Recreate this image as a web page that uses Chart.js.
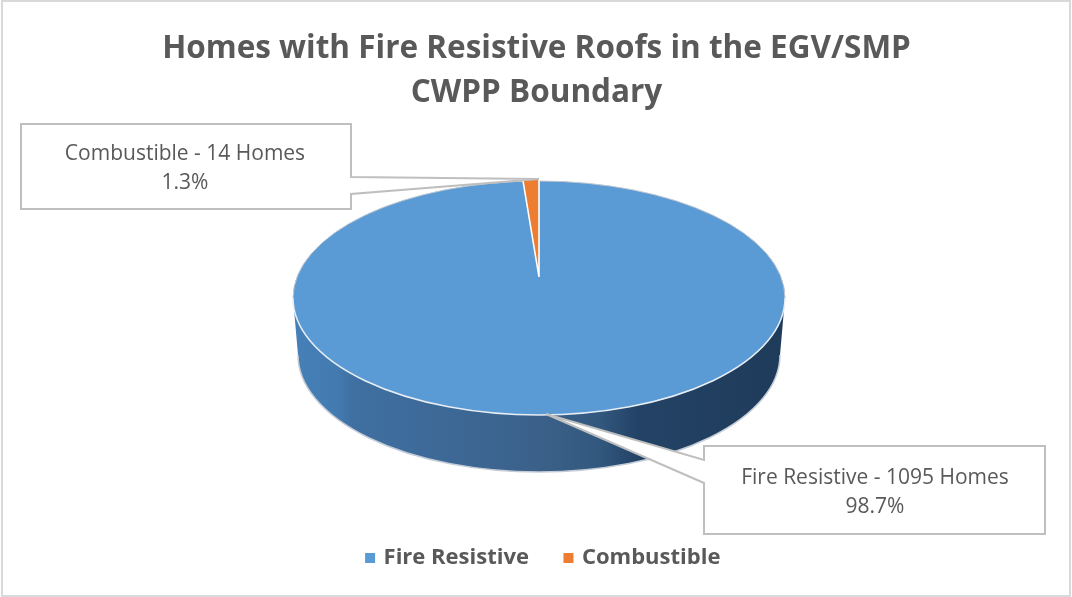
<!DOCTYPE html>
<html>
<head>
<meta charset="utf-8">
<title>Homes with Fire Resistive Roofs</title>
<script src="https://cdn.jsdelivr.net/npm/chart.js@4"></script>
<style>
  body { margin: 0; background: #fff; }
  canvas { display: block; }
</style>
</head>
<body>
<canvas id="roofChart" width="1072" height="597"></canvas>
<script>
const categories = ['Fire Resistive', 'Combustible'];
const homes = [1095, 14];
const percents = ['98.7%', '1.3%'];
const sliceColors = ['#5b9bd5', '#ed7d31'];
const titleLines = ['Homes with Fire Resistive Roofs in the EGV/SMP', 'CWPP Boundary'];

const FONT = '"Open Sans", sans-serif';
const GREY = '#595959';

// where the tilted pie sits on the page
const top3d = { cx: 539, cy: 298, rx: 246, ry: 117, depth: 57, wallRx: 241 };
// the small slice is nearer the back of the tilted disc, so its apex is higher up
const smallSlice = { cy: 277, rx: 205, ry: 98 };

const tilt = (ctx, arc, cx, cy, rx, ry) => {
  const r = arc.outerRadius;
  ctx.translate(cx, cy);
  ctx.scale(rx / r, ry / r);
  ctx.translate(-arc.x, -arc.y);
};

const drawWall = (ctx) => {
  const { cx, cy, rx, ry, depth, wallRx } = top3d;
  const grad = ctx.createLinearGradient(cx - rx, 0, cx + rx, 0);
  grad.addColorStop(0, '#4680b8');
  grad.addColorStop(0.09, '#437bb0');
  grad.addColorStop(0.12, '#3f70a2');
  grad.addColorStop(0.5, '#3b618a');
  grad.addColorStop(0.62, '#33587f');
  grad.addColorStop(0.7, '#234366');
  grad.addColorStop(1, '#1f3b5a');
  ctx.beginPath();
  ctx.moveTo(cx - rx, cy);
  ctx.lineTo(cx - wallRx, cy + depth);
  ctx.ellipse(cx, cy + depth, wallRx, ry, 0, Math.PI, 0, true);
  ctx.lineTo(cx + rx, cy);
  ctx.closePath();
  ctx.fillStyle = grad;
  ctx.fill();

  ctx.beginPath();
  ctx.ellipse(cx, cy + depth, wallRx, ry, 0, Math.PI, 0, true);
  ctx.strokeStyle = '#c3ccd6';
  ctx.lineWidth = 1.5;
  ctx.stroke();
};

const pie3d = {
  id: 'pie3d',
  beforeDatasetDraw(chart, args) {
    const ctx = chart.ctx;
    const [large, small] = chart.getDatasetMeta(args.index).data;
    const { cx, cy, rx, ry } = top3d;

    drawWall(ctx);

    ctx.save();
    tilt(ctx, large, cx, cy, rx, ry);
    large.draw(ctx);
    // second pass turned half way round to fill the notch below the small slice
    ctx.translate(large.x, large.y);
    ctx.rotate(Math.PI);
    ctx.translate(-large.x, -large.y);
    large.draw(ctx);
    ctx.restore();

    // rim of the disc
    ctx.beginPath();
    ctx.ellipse(cx, cy, rx, ry, 0, Math.PI, 0);
    ctx.strokeStyle = '#c3c9d0';
    ctx.lineWidth = 1;
    ctx.stroke();
    ctx.beginPath();
    ctx.ellipse(cx, cy, rx, ry, 0, 0, Math.PI);
    ctx.strokeStyle = '#e8eef4';
    ctx.lineWidth = 1.5;
    ctx.stroke();

    ctx.save();
    tilt(ctx, small, cx, smallSlice.cy, smallSlice.rx, smallSlice.ry);
    small.draw(ctx);
    ctx.restore();
    return false;
  }
};

const callout = (ctx, box, pointer, lines) => {
  ctx.beginPath();
  pointer.forEach(([x, y], i) => (i ? ctx.lineTo(x, y) : ctx.moveTo(x, y)));
  ctx.closePath();
  ctx.fillStyle = '#fff';
  ctx.strokeStyle = '#bfbfbf';
  ctx.lineWidth = 2;
  ctx.fill();
  ctx.stroke();

  ctx.fillStyle = GREY;
  ctx.font = `21px ${FONT}`;
  ctx.textAlign = 'center';
  ctx.textBaseline = 'middle';
  lines.forEach((line, i) => ctx.fillText(line, box.x, box.y + i * 29.5));
};

const callouts = {
  id: 'callouts',
  afterDatasetsDraw(chart) {
    const ctx = chart.ctx;
    callout(ctx, { x: 185, y: 154 },
      [[21, 124], [351, 124], [351, 177], [539, 179], [351, 194], [351, 209], [21, 209]],
      [`${categories[1]} - ${homes[1]} Homes`, percents[1]]);
    callout(ctx, { x: 875, y: 478 },
      [[704, 446], [1045, 446], [1045, 534], [704, 534], [704, 483], [546, 414], [704, 460]],
      [`${categories[0]} - ${homes[0]} Homes`, percents[0]]);
  }
};

const frame = {
  id: 'frame',
  beforeDraw(chart) {
    const ctx = chart.ctx;
    ctx.strokeStyle = '#d9d9d9';
    ctx.lineWidth = 2;
    ctx.strokeRect(2, 1, 1068, 595);
  },
  afterLayout(chart) {
    // the legend sits a little right of the page centre
    chart.legend.left += 7.5;
    chart.legend.right += 7.5;
  }
};

new Chart(document.getElementById('roofChart'), {
  type: 'pie',
  data: {
    labels: categories,
    datasets: [{
      data: homes,
      backgroundColor: sliceColors,
      borderColor: '#fff',
      borderWidth: [0, 1.5]
    }]
  },
  plugins: [frame, pie3d, callouts],
  options: {
    responsive: false,
    animation: false,
    layout: { padding: { left: 1, right: 0, top: 4, bottom: 18 } },
    plugins: {
      tooltip: { enabled: false },
      title: {
        display: true,
        text: titleLines,
        color: GREY,
        font: { family: FONT, size: 31.5, weight: 'bold', lineHeight: 1.4 },
        padding: { top: 23, bottom: 10 }
      },
      legend: {
        position: 'bottom',
        labels: {
          color: GREY,
          font: { family: FONT, size: 22, weight: 'bold' },
          usePointStyle: true,
          pointStyle: 'rect',
          boxWidth: 5,
          boxHeight: 10,
          padding: 37,
          generateLabels(chart) {
            return Chart.overrides.pie.plugins.legend.labels.generateLabels(chart)
              .map((item) => ({ ...item, lineWidth: 0 }));
          }
        }
      }
    }
  }
});
</script>
</body>
</html>
